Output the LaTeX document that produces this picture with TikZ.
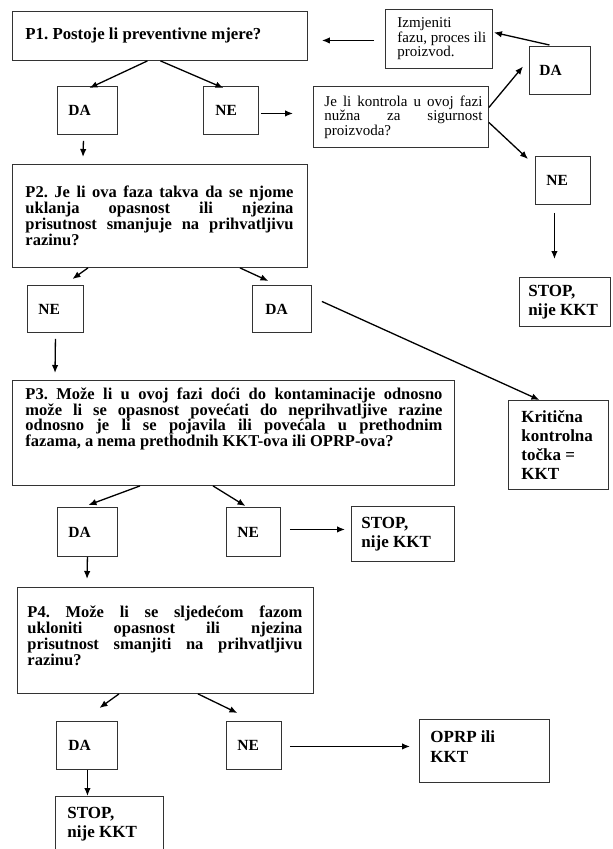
\documentclass[tikz,border=0pt]{standalone}
\usepackage{fontspec}
\setmainfont{Liberation Serif}
\usetikzlibrary{arrows.meta}
\frenchspacing
% #1 box width, #2 left pad, #3 right skip, #4 text
\newcommand{\jtext}[4]{\parbox{#1}{\leftskip=#2\relax\rightskip=#3\relax\parfillskip=0pt plus 1fil\relax\frenchspacing #4\par}}
\begin{document}
\begin{tikzpicture}[x=1pt,y=1pt,
  bx/.style={draw=black!80, line width=0.9pt, anchor=north west, inner sep=0pt},
  qf/.style={font=\fontsize{16.5}{16}\selectfont\bfseries},
  lab/.style={font=\fontsize{15.5}{17}\selectfont\bfseries},
  res/.style={font=\fontsize{17}{19.5}\selectfont\bfseries},
  rg/.style={font=\fontsize{15}{14.5}\selectfont},
  arr/.style={-{Latex[length=8pt,width=6.5pt]}, line width=1.3pt}
]
\fill[white] (0,0) rectangle (613,-849);
\useasboundingbox (0,0) rectangle (613,-849);

% question boxes
\node[bx, font=\fontsize{16.8}{18}\selectfont\bfseries, minimum width=295pt, minimum height=49pt] (p1) at (12,-11) {\jtext{295pt}{13pt}{0pt plus 1fil}{P1. Postoje li preventivne mjere?}};
\node[bx, qf, minimum width=295pt, minimum height=103pt] (p2) at (12,-164) {\jtext{295pt}{13pt}{14pt}{P2. Je li ova faza takva da se njome\linebreak uklanja opasnost ili njezina\linebreak prisutnost smanjuje na prihvatljivu\linebreak razinu?}};
\node[bx, font=\fontsize{16.5}{15.5}\selectfont\bfseries, minimum width=442pt, minimum height=105pt] (p3) at (12,-380) {\jtext{442pt}{13pt}{12pt}{P3. Može li u ovoj fazi doći do kontaminacije odnosno\linebreak može li se opasnost povećati do neprihvatljive razine\linebreak odnosno je li se pojavila ili povećala u prethodnim\linebreak fazama, a nema prethodnih KKT-ova ili OPRP-ova?\par\vspace*{28pt}}};
\node[bx, qf, minimum width=296pt, minimum height=106pt] (p4) at (17,-587) {\jtext{296pt}{10pt}{11pt}{P4. Može li se sljedećom fazom\linebreak ukloniti opasnost ili njezina\linebreak prisutnost smanjiti na prihvatljivu\linebreak razinu?\par\vspace*{10pt}}};

% regular text boxes
\node[bx, rg, minimum width=107pt, minimum height=59pt] (izm) at (385,-9) {\jtext{107pt}{12pt}{0pt plus 1fil}{Izmjeniti\newline fazu, proces ili\newline proizvod.}};
\node[bx, rg, minimum width=175pt, minimum height=61pt] (jeli) at (313,-86) {\jtext{175pt}{11pt}{6pt}{Je li kontrola u ovoj fazi\linebreak nužna za sigurnost\linebreak proizvoda?}};

% answer boxes
\node[bx, lab, minimum width=60pt, minimum height=48pt] (da1) at (57,-86) {\jtext{60pt}{11pt}{0pt plus 1fil}{DA}};
\node[bx, lab, minimum width=55pt, minimum height=48pt] (ne1) at (203,-86) {\jtext{55pt}{12pt}{0pt plus 1fil}{NE}};
\node[bx, lab, minimum width=61pt, minimum height=48pt] (dar) at (529,-46) {\jtext{61pt}{10pt}{0pt plus 1fil}{DA}};
\node[bx, lab, minimum width=55pt, minimum height=48pt] (ner) at (535,-156) {\jtext{55pt}{11pt}{0pt plus 1fil}{NE}};
\node[bx, lab, minimum width=56pt, minimum height=47pt] (ne2) at (27,-285) {\jtext{56pt}{11pt}{0pt plus 1fil}{NE}};
\node[bx, lab, minimum width=59pt, minimum height=47pt] (da2) at (252,-285) {\jtext{59pt}{13pt}{0pt plus 1fil}{DA}};
\node[bx, lab, minimum width=60pt, minimum height=49pt] (da3) at (57,-507) {\jtext{60pt}{11pt}{0pt plus 1fil}{DA}};
\node[bx, lab, minimum width=54pt, minimum height=49pt] (ne3) at (226,-507) {\jtext{54pt}{11pt}{0pt plus 1fil}{NE}};
\node[bx, lab, minimum width=61pt, minimum height=48pt] (da4) at (56,-721) {\jtext{61pt}{12pt}{0pt plus 1fil}{DA}};
\node[bx, lab, minimum width=55pt, minimum height=48pt] (ne4) at (226,-721) {\jtext{55pt}{11pt}{0pt plus 1fil}{NE}};

% result boxes
\node[bx, res, minimum width=91pt, minimum height=49pt] (stop1) at (519,-277) {\jtext{91pt}{9pt}{0pt plus 1fil}{STOP,\newline nije KKT}};
\node[bx, font=\fontsize{17}{19}\selectfont\bfseries, minimum width=100pt, minimum height=89pt] (krit) at (508,-400) {\jtext{100pt}{13pt}{0pt plus 1fil}{Kritična\newline kontrolna\newline točka =\newline KKT}};
\node[bx, res, minimum width=103pt, minimum height=55pt] (stop2) at (351,-506) {\jtext{103pt}{10pt}{0pt plus 1fil}{STOP,\newline nije KKT}};
\node[bx, font=\fontsize{17}{20}\selectfont\bfseries, minimum width=130pt, minimum height=63pt] (oprp) at (419,-719) {\jtext{130pt}{11pt}{0pt plus 1fil}{OPRP ili\newline KKT\par\vspace*{8pt}}};
\node[bx, res, minimum width=108pt, minimum height=55pt] (stop3) at (55,-796) {\jtext{108pt}{12pt}{0pt plus 1fil}{STOP,\newline nije KKT}};

% connectors
\draw[arr] ([xshift=-11pt,yshift=-1.5pt]izm.west) -- ([xshift=14pt,yshift=-4.5pt]p1.east);
\draw[arr] ([xshift=-10.5pt,yshift=1pt]dar.north) -- ([xshift=1pt,yshift=6.5pt]izm.east);
\draw[arr] ([xshift=-12.5pt]p1.south) -- ([xshift=2pt,yshift=-2pt]da1.north);
\draw[arr] ([xshift=0.5pt]p1.south) -- ([xshift=-7.5pt,yshift=-2pt]ne1.north);
\draw[arr] ([xshift=2pt,yshift=-3pt]ne1.east) -- ([xshift=-20pt,yshift=3.5pt]jeli.west);
\draw[arr] ([yshift=9.5pt]jeli.east) -- ([xshift=-6pt,yshift=4pt]dar.west);
\draw[arr] ([yshift=-5.5pt]jeli.east) -- ([xshift=-7pt,yshift=-3pt]ner.north west);
\draw[arr] ([xshift=-8.5pt,yshift=-8pt]ner.south) -- ([xshift=-10.5pt,yshift=18pt]stop1.north);
\draw[arr] ([xshift=-4pt,yshift=-6pt]da1.south) -- ([xshift=71pt,yshift=7pt]p2.north west);
\draw[arr] ([xshift=76pt]p2.south west) -- ([xshift=17pt,yshift=6pt]ne2.north);
\draw[arr] ([xshift=228pt]p2.south west) -- ([xshift=-13.5pt,yshift=4pt]da2.north);
\draw[arr] ([yshift=-6pt]ne2.south) -- ([xshift=43pt,yshift=7pt]p3.north west);
\draw[arr] ([xshift=10pt,yshift=7.5pt]da2.east) -- ([xshift=-19pt]krit.north);
\draw[arr] ([xshift=128pt]p3.south west) -- ([xshift=1pt,yshift=2pt]da3.north);
\draw[arr] ([xshift=201pt]p3.south west) -- ([xshift=-8pt,yshift=1pt]ne3.north);
\draw[arr] ([xshift=9pt,yshift=2.5pt]ne3.east) -- ([xshift=-6pt,yshift=4.5pt]stop2.west);
\draw[arr] (da3.south) -- ([xshift=70pt,yshift=8pt]p4.north west);
\draw[arr] ([xshift=102pt]p4.south west) -- ([xshift=12.5pt,yshift=13pt]da4.north);
\draw[arr] ([xshift=181pt]p4.south west) -- ([xshift=-16.5pt,yshift=8pt]ne4.north);
\draw[arr] ([xshift=8pt,yshift=-1pt]ne4.east) -- ([xshift=-9pt,yshift=4.5pt]oprp.west);
\draw[arr] ([xshift=0.5pt]da4.south) -- ([xshift=-22pt]stop3.north);
\end{tikzpicture}
\end{document}
